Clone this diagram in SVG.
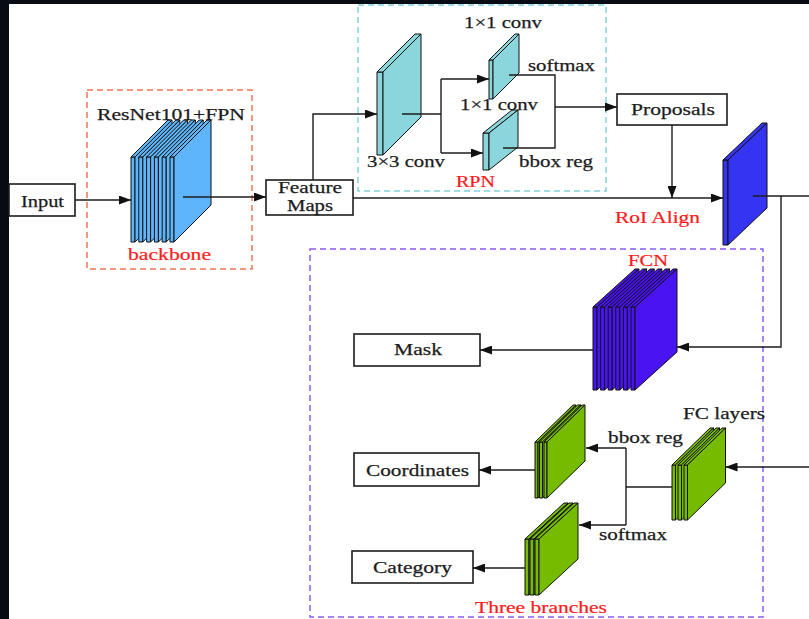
<svg xmlns="http://www.w3.org/2000/svg" width="809" height="619" viewBox="0 0 809 619">
<style>
.t{font-family:"Liberation Serif","Times New Roman",serif;font-size:17px;fill:#1c1c1c;stroke:#1c1c1c;stroke-width:0.25}
.r{font-family:"Liberation Serif","Times New Roman",serif;font-size:17px;fill:#ff1a1a;stroke:#ff1a1a;stroke-width:0.2}
.box{fill:#fff;stroke:#1c1c1c;stroke-width:1.6}
.ln{fill:none;stroke:#1c1c1c;stroke-width:1.4}
.ar{marker-end:url(#ah)}
.sl{stroke:#111;stroke-width:1;stroke-linejoin:round}
.bb{fill:#5fb5fa}
.cy{fill:#8bd6dc}
.ro{fill:#3434f2}
.fc{fill:#4a14f2}
.gr{fill:#76bb00}
.dash{fill:none;stroke-width:1.5;stroke-dasharray:6 4}
</style>
<defs>
<marker id="ah" markerUnits="userSpaceOnUse" markerWidth="12" markerHeight="9" refX="12" refY="4.5" orient="auto">
<path d="M0,0 L12,4.5 L0,9 z" fill="#111"/>
</marker>
</defs>
<rect x="0" y="0" width="809" height="619" fill="#070b14"/>
<rect x="9" y="4" width="800" height="615" fill="#fff"/>

<g id="groups">
<rect x="87" y="90" width="165" height="179" class="dash" stroke="#f27655"/>
<rect x="358" y="5" width="248" height="186" class="dash" stroke="#7fd4dc"/>
<rect x="310" y="249" width="453" height="368" class="dash" stroke="#8b5cf6"/>
</g>

<g id="input">
<rect x="9" y="184" width="66" height="32" class="box"/>
<text x="21" y="207" class="t" textLength="43" lengthAdjust="spacingAndGlyphs">Input</text>
</g>

<g id="backbone">
<g class="sl bb">
<rect x="131" y="157" width="4" height="85"/><polygon points="131,157 135,157 172,120 168,120"/><polygon points="135,157 172,120 172,205 135,242"/>
<rect x="138.8" y="157" width="4" height="85"/><polygon points="138.8,157 142.8,157 179.8,120 175.8,120"/><polygon points="142.8,157 179.8,120 179.8,205 142.8,242"/>
<rect x="146.6" y="157" width="4" height="85"/><polygon points="146.6,157 150.6,157 187.6,120 183.6,120"/><polygon points="150.6,157 187.6,120 187.6,205 150.6,242"/>
<rect x="154.4" y="157" width="4" height="85"/><polygon points="154.4,157 158.4,157 195.4,120 191.4,120"/><polygon points="158.4,157 195.4,120 195.4,205 158.4,242"/>
<rect x="162.2" y="157" width="4" height="85"/><polygon points="162.2,157 166.2,157 203.2,120 199.2,120"/><polygon points="166.2,157 203.2,120 203.2,205 166.2,242"/>
<rect x="170" y="157" width="4" height="85"/><polygon points="170,157 174,157 211,120 207,120"/><polygon points="174,157 211,120 211,205 174,242"/>
</g>
<text x="97" y="120" class="t" textLength="148" lengthAdjust="spacingAndGlyphs">ResNet101+FPN</text>
<text x="128" y="260" class="r" textLength="83" lengthAdjust="spacingAndGlyphs">backbone</text>
</g>

<g id="feature-maps">
<rect x="266" y="180" width="87" height="35" class="box"/>
<text x="278" y="193" class="t" textLength="64" lengthAdjust="spacingAndGlyphs">Feature</text>
<text x="287" y="211" class="t" textLength="46" lengthAdjust="spacingAndGlyphs">Maps</text>
</g>

<g id="rpn">
<g class="sl cy">
<rect x="377" y="72" width="6" height="83"/><polygon points="377,72 383,72 421,34 415,34"/><polygon points="383,72 421,34 421,117 383,155"/>
<rect x="489" y="60" width="4" height="39"/><polygon points="489,60 493,60 519,34 515,34"/><polygon points="493,60 519,34 519,73 493,99"/>
<rect x="483" y="133" width="6" height="37"/><polygon points="483,133 489,133 518,110 512,110"/><polygon points="489,133 518,110 518,147 489,170"/>
</g>
<text x="464" y="28" class="t" textLength="78" lengthAdjust="spacingAndGlyphs">1×1 conv</text>
<text x="528" y="71" class="t" textLength="67" lengthAdjust="spacingAndGlyphs">softmax</text>
<text x="460" y="110" class="t" textLength="78" lengthAdjust="spacingAndGlyphs">1×1 conv</text>
<text x="367" y="167" class="t" textLength="78" lengthAdjust="spacingAndGlyphs">3×3 conv</text>
<text x="519" y="167" class="t" textLength="74" lengthAdjust="spacingAndGlyphs">bbox reg</text>
<text x="456" y="187" class="r" textLength="39" lengthAdjust="spacingAndGlyphs">RPN</text>
</g>

<g id="proposals">
<rect x="617" y="94" width="110" height="31" class="box"/>
<text x="631" y="115" class="t" textLength="84" lengthAdjust="spacingAndGlyphs">Proposals</text>
</g>

<g id="roi-align">
<g class="sl ro">
<rect x="723" y="160" width="5" height="85"/><polygon points="723,160 728,160 767,123 762,123"/><polygon points="728,160 767,123 767,208 728,245"/>
</g>
<text x="615" y="223" class="r" textLength="85" lengthAdjust="spacingAndGlyphs">RoI Align</text>
</g>

<g id="fcn">
<g class="sl fc">
<rect x="593" y="307" width="4" height="83"/><polygon points="593,307 597,307 639,269 635,269"/><polygon points="597,307 639,269 639,352 597,390"/>
<rect x="600.6" y="307" width="4" height="83"/><polygon points="600.6,307 604.6,307 646.6,269 642.6,269"/><polygon points="604.6,307 646.6,269 646.6,352 604.6,390"/>
<rect x="608.2" y="307" width="4" height="83"/><polygon points="608.2,307 612.2,307 654.2,269 650.2,269"/><polygon points="612.2,307 654.2,269 654.2,352 612.2,390"/>
<rect x="615.8" y="307" width="4" height="83"/><polygon points="615.8,307 619.8,307 661.8,269 657.8,269"/><polygon points="619.8,307 661.8,269 661.8,352 619.8,390"/>
<rect x="623.4" y="307" width="4" height="83"/><polygon points="623.4,307 627.4,307 669.4,269 665.4,269"/><polygon points="627.4,307 669.4,269 669.4,352 627.4,390"/>
<rect x="631" y="307" width="4" height="83"/><polygon points="631,307 635,307 677,269 673,269"/><polygon points="635,307 677,269 677,352 635,390"/>
</g>
<text x="628" y="266" class="r" textLength="40" lengthAdjust="spacingAndGlyphs">FCN</text>
</g>

<g id="mask">
<rect x="354" y="334" width="126" height="32" class="box"/>
<text x="394" y="355" class="t" textLength="48" lengthAdjust="spacingAndGlyphs">Mask</text>
</g>

<g id="fc-layers">
<g class="sl gr">
<rect x="672" y="465" width="3.5" height="55"/><polygon points="672,465 675.5,465 713.5,428 710,428"/><polygon points="675.5,465 713.5,428 713.5,483 675.5,520"/>
<rect x="678" y="465" width="3.5" height="55"/><polygon points="678,465 681.5,465 719.5,428 716,428"/><polygon points="681.5,465 719.5,428 719.5,483 681.5,520"/>
<rect x="684" y="465" width="3.5" height="55"/><polygon points="684,465 687.5,465 725.5,428 722,428"/><polygon points="687.5,465 725.5,428 725.5,483 687.5,520"/>
</g>
<text x="683" y="419" class="t" textLength="82" lengthAdjust="spacingAndGlyphs">FC layers</text>
</g>

<g id="bbox-branch">
<g class="sl gr">
<rect x="535" y="442" width="3" height="56"/><polygon points="535,442 538,442 576,405 573,405"/><polygon points="538,442 576,405 576,461 538,498"/>
<rect x="539.5" y="442" width="3" height="56"/><polygon points="539.5,442 542.5,442 580.5,405 577.5,405"/><polygon points="542.5,442 580.5,405 580.5,461 542.5,498"/>
<rect x="544" y="442" width="3" height="56"/><polygon points="544,442 547,442 585,405 582,405"/><polygon points="547,442 585,405 585,461 547,498"/>
</g>
<text x="608" y="443" class="t" textLength="75" lengthAdjust="spacingAndGlyphs">bbox reg</text>
</g>

<g id="class-branch">
<g class="sl gr">
<rect x="525" y="539" width="4" height="56"/><polygon points="525,539 529,539 568,503 564,503"/><polygon points="529,539 568,503 568,559 529,595"/>
<rect x="530" y="539" width="4" height="56"/><polygon points="530,539 534,539 573,503 569,503"/><polygon points="534,539 573,503 573,559 534,595"/>
<rect x="535" y="539" width="4" height="56"/><polygon points="535,539 539,539 578,503 574,503"/><polygon points="539,539 578,503 578,559 539,595"/>
</g>
<text x="599" y="540" class="t" textLength="68" lengthAdjust="spacingAndGlyphs">softmax</text>
<text x="475" y="613" class="r" textLength="132" lengthAdjust="spacingAndGlyphs">Three branches</text>
</g>

<g id="coordinates">
<rect x="354" y="453" width="125" height="33" class="box"/>
<text x="366" y="476" class="t" textLength="103" lengthAdjust="spacingAndGlyphs">Coordinates</text>
</g>

<g id="category">
<rect x="352" y="551" width="121" height="32" class="box"/>
<text x="373" y="573" class="t" textLength="79" lengthAdjust="spacingAndGlyphs">Category</text>
</g>

<g id="connectors">
<line x1="75" y1="200" x2="131" y2="200" class="ln ar"/>
<line x1="183" y1="197" x2="266" y2="197" class="ln ar"/>
<polyline points="313,180 313,114 377,114" class="ln ar"/>
<line x1="353" y1="198" x2="723" y2="198" class="ln ar"/>
<line x1="402" y1="114" x2="441" y2="114" class="ln"/>
<line x1="441" y1="79" x2="441" y2="153" class="ln"/>
<line x1="441" y1="79" x2="489" y2="79" class="ln ar"/>
<line x1="441" y1="153" x2="483" y2="153" class="ln ar"/>
<polyline points="509,75 555,75 555,148 503,148" class="ln"/>
<line x1="555" y1="107" x2="617" y2="107" class="ln ar"/>
<line x1="672" y1="125" x2="672" y2="198" class="ln ar"/>
<line x1="753" y1="196" x2="809" y2="196" class="ln"/>
<polyline points="781,196 781,347 677,347" class="ln ar"/>
<line x1="593" y1="350" x2="480" y2="350" class="ln ar"/>
<line x1="809" y1="467" x2="725.5" y2="467" class="ln ar"/>
<line x1="672" y1="487" x2="626" y2="487" class="ln"/>
<line x1="626" y1="448" x2="626" y2="525" class="ln"/>
<line x1="626" y1="448" x2="586" y2="448" class="ln ar"/>
<line x1="626" y1="525" x2="579" y2="525" class="ln ar"/>
<line x1="535" y1="470" x2="479" y2="470" class="ln ar"/>
<line x1="525" y1="568" x2="473" y2="568" class="ln ar"/>
</g>
</svg>
